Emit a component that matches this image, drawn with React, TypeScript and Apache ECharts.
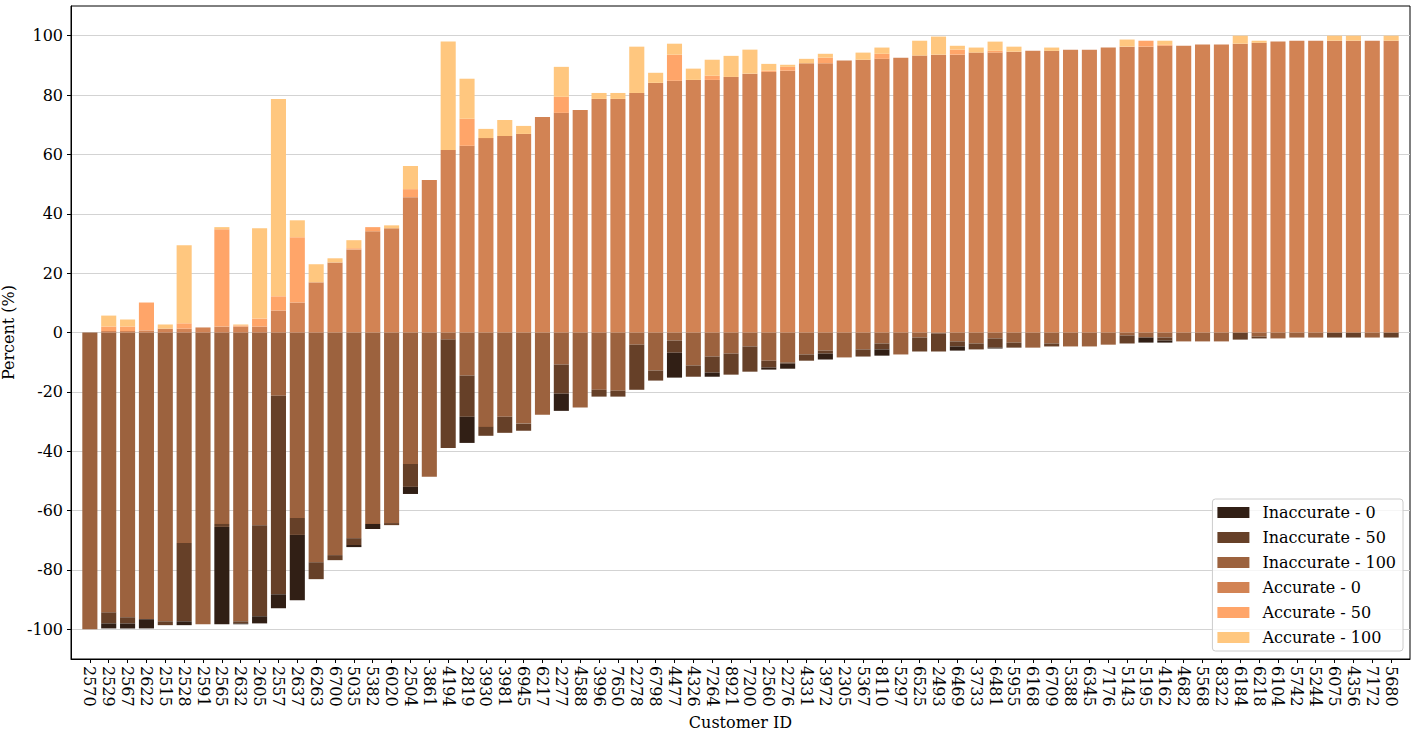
import React, { useEffect, useRef } from "react";
import * as echarts from "echarts";

const customerIds = [
  "2570", "2529", "2567", "2622", "2515", "2528", "2591", "2565", "2632", "2605",
  "2557", "2637", "6263", "6700", "5035", "5382", "6020", "2504", "3861", "4194",
  "2819", "3930", "3981", "6945", "6217", "2277", "4588", "3996", "7650", "2278",
  "6798", "4477", "4326", "7264", "8921", "7200", "2560", "2276", "4331", "3972",
  "2305", "5367", "8110", "5297", "6525", "2493", "6469", "3733", "6481", "5955",
  "6168", "6709", "5388", "6345", "7176", "5143", "5195", "4162", "4682", "5568",
  "8322", "6184", "6218", "6104", "5742", "5244", "6075", "4356", "7172", "5680",
];

const accurate0 = [
  0, 0.5, 0.5, 0.7, 1.3, 1.3, 1.7, 2.0, 2.0, 2.0,
  7.4, 10.1, 16.9, 23.6, 28.0, 34.1, 35.1, 45.6, 51.4, 61.5,
  62.9, 65.5, 66.2, 66.9, 72.6, 74.0, 75.0, 78.7, 78.7, 80.7,
  84.1, 84.8, 85.1, 85.1, 86.1, 87.2, 87.8, 88.2, 90.7, 90.7,
  91.6, 91.9, 92.2, 92.6, 93.3, 93.6, 93.6, 94.3, 94.3, 94.6,
  94.9, 94.9, 95.3, 95.3, 96.0, 96.3, 96.3, 96.6, 96.6, 97.0,
  97.0, 97.3, 97.6, 98.0, 98.3, 98.3, 98.3, 98.3, 98.3, 98.3,
];
const accurate50 = [
  0, 1.5, 1.5, 9.4, 0, 1.8, 0, 32.8, 0.4, 2.7,
  4.8, 22.0, 0, 0, 0.4, 1.4, 0, 2.7, 0, 0,
  9.1, 0, 0, 0, 0, 5.4, 0, 0, 0, 0,
  0, 8.8, 0, 1.4, 0, 0, 0.4, 1.3, 0, 1.9,
  0, 0, 1.7, 0, 0, 0, 1.7, 0, 0.6, 0,
  0, 0, 0, 0, 0, 0, 2.0, 0.3, 0, 0,
  0, 0, 0, 0, 0, 0, 0, 0, 0, 0,
];
const accurate100 = [
  0, 3.7, 2.4, 0, 1.4, 26.3, 0, 0.7, 0.3, 30.4,
  66.5, 5.7, 6.1, 1.4, 2.7, 0, 1.0, 7.8, 0, 36.5,
  13.5, 3.1, 5.4, 2.7, 0, 10.1, 0, 2.0, 2.0, 15.6,
  3.4, 3.7, 3.8, 5.4, 7.1, 8.1, 2.3, 0.7, 1.5, 1.3,
  0, 2.4, 2.1, 0, 5.0, 6.1, 1.3, 1.7, 3.1, 1.7,
  0, 1.1, 0, 0, 0, 2.4, 0, 1.4, 0, 0,
  0, 2.7, 0.7, 0, 0, 0, 1.7, 1.7, 0, 1.7,
];
const inaccurate100 = [
  -100, -94.3, -95.9, -96.6, -97.3, -70.9, -98.3, -64.5, -97.3, -64.9,
  -21.3, -62.5, -77.4, -75.0, -69.3, -64.5, -64.2, -44.3, -48.6, -2.4,
  -14.5, -31.8, -28.4, -30.7, -27.7, -10.8, -25.3, -19.3, -19.6, -4.1,
  -12.8, -2.7, -11.1, -8.1, -7.1, -4.7, -9.5, -10.1, -7.4, -6.1,
  -8.4, -5.7, -3.7, -7.4, -1.7, -0.3, -3.0, -3.7, -2.0, -3.4,
  -5.1, -3.7, -4.7, -4.7, -4.1, -1.0, -1.7, -1.7, -3.0, -3.0,
  -3.0, 0, -1.4, -2.0, -1.7, -1.7, 0, 0, -1.7, 0,
];
const inaccurate50 = [
  0, -3.7, -2.1, 0, -1.3, -26.4, 0, -1.0, -0.7, -30.7,
  -66.9, -5.7, -5.7, -1.7, -2.3, 0, -0.7, -7.7, 0, -36.5,
  -13.9, -3.0, -5.4, -2.4, 0, -9.8, 0, -2.3, -2.0, -15.2,
  -3.4, -4.1, -3.8, -5.4, -7.1, -8.5, -2.3, -0.4, -2.1, -1.0,
  0, -2.4, -2.0, 0, -4.7, -6.1, -1.7, -2.0, -3.1, -1.7,
  0, -1.0, 0, 0, 0, -2.7, 0, -1.0, 0, 0,
  0, -2.4, -0.6, 0, 0, 0, -1.7, -1.7, 0, -1.7,
];
const inaccurate0 = [
  0, -1.7, -1.7, -3.1, 0, -1.3, 0, -32.8, -0.3, -2.4,
  -4.7, -22.0, 0, 0, -0.7, -1.7, 0, -2.4, 0, 0,
  -8.8, 0, 0, 0, 0, -5.8, 0, 0, 0, 0,
  0, -8.4, 0, -1.4, 0, 0, -0.7, -1.7, 0, -2.0,
  0, 0, -2.1, 0, 0, 0, -1.4, 0, -0.3, 0,
  0, 0, 0, 0, 0, 0, -1.7, -0.7, 0, 0,
  0, 0, 0, 0, 0, 0, 0, 0, 0, 0,
];

const yTicks = [-100, -80, -60, -40, -20, 0, 20, 40, 60, 80, 100];

const FONT = "DejaVu Serif";
const FS = 16;

const seriesDefs = [
  { name: "Inaccurate - 100", values: inaccurate100, color: "#9c623e" },
  { name: "Inaccurate - 50", values: inaccurate50, color: "#664028" },
  { name: "Inaccurate - 0", values: inaccurate0, color: "#311f15" },
  { name: "Accurate - 0", values: accurate0, color: "#d28354" },
  { name: "Accurate - 50", values: accurate50, color: "#ffa569" },
  { name: "Accurate - 100", values: accurate100, color: "#ffc77f" },
];

const legendOrder = [
  "Inaccurate - 0",
  "Inaccurate - 50",
  "Inaccurate - 100",
  "Accurate - 0",
  "Accurate - 50",
  "Accurate - 100",
];

export default function App() {
  const ref = useRef<HTMLDivElement>(null);

  useEffect(() => {
    if (!ref.current) return;
    const chart = echarts.init(ref.current, null, { renderer: "svg" });
    // one empty slot at each end gives matplotlib-like side margins
    const categories = ["", ...customerIds, ""];

    chart.setOption({
      animation: false,
      backgroundColor: "#ffffff",
      textStyle: { fontFamily: FONT },
      grid: {
        left: 71,
        right: 7,
        top: 6,
        bottom: 76,
        show: true,
        borderColor: "#000000",
        borderWidth: 1,
        backgroundColor: "transparent",
        containLabel: false,
        outerBoundsMode: "none",
      },
      xAxis: {
        type: "category",
        data: categories,
        boundaryGap: false,
        name: "Customer ID",
        nameLocation: "middle",
        nameGap: 52,
        nameTextStyle: { fontFamily: FONT, fontSize: FS, color: "#000" },
        axisLine: { show: true, onZero: false, lineStyle: { color: "#000", width: 1 } },
        axisTick: {
          show: true,
          length: 4,
          interval: (_i: number, v: string) => v !== "",
          lineStyle: { color: "#000" },
        },
        axisLabel: {
          interval: 0,
          rotate: -90,
          margin: 7,
          fontFamily: FONT,
          fontSize: FS,
          color: "#000",
        },
        splitLine: { show: false },
      },
      yAxis: {
        type: "value",
        min: -110,
        max: 110,
        name: "Percent (%)",
        nameLocation: "middle",
        nameGap: 47,
        nameTextStyle: { fontFamily: FONT, fontSize: FS, color: "#000" },
        axisLine: { show: true, onZero: false, lineStyle: { color: "#000", width: 1 } },
        axisTick: {
          show: true,
          length: 4,
          customValues: yTicks,
          lineStyle: { color: "#000" },
        },
        axisLabel: {
          customValues: yTicks,
          margin: 8,
          fontFamily: FONT,
          fontSize: FS,
          color: "#000",
        },
        splitLine: {
          show: true,
          lineStyle: { color: "#d3d3d3", width: 1 },
        },
      },
      legend: {
        data: legendOrder,
        orient: "vertical",
        right: 14,
        bottom: 84,
        itemWidth: 32,
        itemHeight: 11,
        itemGap: 8,
        icon: "rect",
        padding: [5, 7, 5, 5],
        backgroundColor: "rgba(255,255,255,0.8)",
        borderColor: "#cccccc",
        borderWidth: 1,
        borderRadius: 3,
        textStyle: {
          fontFamily: FONT,
          fontSize: FS,
          color: "#000",
          lineHeight: 17,
          padding: [0, 0, 0, 8],
        },
      },
      series: seriesDefs.map((s) => ({
        type: "bar",
        name: s.name,
        stack: "all",
        stackStrategy: "samesign",
        barWidth: "80%",
        itemStyle: { color: s.color },
        emphasis: { disabled: true },
        data: [null, ...s.values, null],
      })),
    });

    return () => {
      chart.dispose();
    };
  }, []);

  return (
    <div
      ref={ref}
      style={{ position: "absolute", left: 0, top: 0, width: 1417, height: 735 }}
    />
  );
}
